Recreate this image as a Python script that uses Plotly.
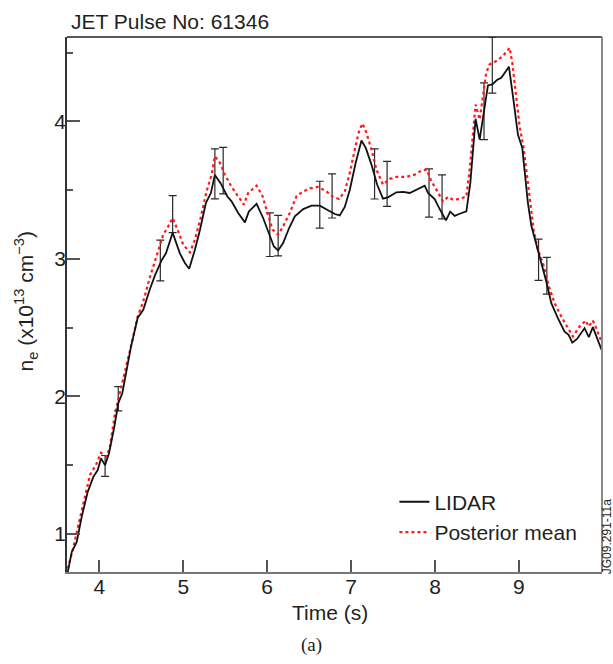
import plotly.graph_objects as go

# ---------------- data ----------------
lidar_t = [3.624, 3.672, 3.731, 3.790, 3.862, 3.929, 3.981, 4.020, 4.068, 4.115,
           4.179, 4.226, 4.274, 4.326, 4.377, 4.457, 4.524, 4.600, 4.663, 4.743,
           4.794, 4.874, 4.960, 5.020, 5.071, 5.139, 5.199, 5.270, 5.330, 5.377,
           5.445, 5.524, 5.576, 5.655, 5.735, 5.782, 5.874, 5.952, 6.032, 6.080,
           6.131, 6.190, 6.262, 6.330, 6.430, 6.529, 6.627, 6.726, 6.806, 6.865,
           6.925, 6.985, 7.056, 7.124, 7.175, 7.243, 7.310, 7.380, 7.440, 7.540,
           7.619, 7.699, 7.798, 7.877, 7.917, 7.996, 8.056, 8.131, 8.181, 8.235,
           8.294, 8.374, 8.421, 8.484, 8.532, 8.584, 8.631, 8.683, 8.738, 8.790,
           8.881, 8.937, 8.988, 9.040, 9.075, 9.107, 9.148, 9.207, 9.267, 9.326,
           9.386, 9.464, 9.544, 9.592, 9.636, 9.690, 9.782, 9.833, 9.881, 9.933,
           9.990]
lidar_ne = [0.723, 0.869, 0.942, 1.124, 1.306, 1.415, 1.464, 1.549, 1.500, 1.585,
            1.779, 1.950, 2.023, 2.190, 2.360, 2.570, 2.630, 2.775, 2.880, 2.990,
            3.040, 3.190, 3.040, 2.970, 2.928, 3.066, 3.210, 3.406, 3.480, 3.610,
            3.550, 3.455, 3.418, 3.333, 3.265, 3.345, 3.400, 3.297, 3.168, 3.090,
            3.061, 3.115, 3.224, 3.309, 3.362, 3.387, 3.387, 3.353, 3.326, 3.316,
            3.377, 3.503, 3.700, 3.860, 3.807, 3.685, 3.540, 3.438, 3.447, 3.484,
            3.487, 3.479, 3.508, 3.532, 3.479, 3.435, 3.362, 3.280, 3.343, 3.312,
            3.328, 3.345, 3.552, 4.018, 3.867, 4.062, 4.261, 4.268, 4.300, 4.317,
            4.397, 4.146, 3.904, 3.807, 3.576, 3.406, 3.240, 3.103, 2.980, 2.835,
            2.678, 2.569, 2.471, 2.447, 2.391, 2.416, 2.496, 2.430, 2.503, 2.423,
            2.330]

post_t = [3.624, 3.690, 3.750, 3.830, 3.889, 3.969, 4.020, 4.088, 4.127, 4.187,
          4.246, 4.306, 4.386, 4.457, 4.524, 4.600, 4.683, 4.762, 4.821, 4.874,
          4.940, 5.000, 5.080, 5.139, 5.207, 5.278, 5.338, 5.377, 5.437, 5.496,
          5.576, 5.655, 5.723, 5.774, 5.874, 5.945, 6.000, 6.064, 6.131, 6.190,
          6.270, 6.350, 6.429, 6.508, 6.607, 6.707, 6.786, 6.857, 6.925, 6.985,
          7.044, 7.095, 7.136, 7.183, 7.243, 7.302, 7.380, 7.460, 7.540, 7.660,
          7.758, 7.838, 7.898, 7.957, 8.017, 8.095, 8.155, 8.214, 8.294, 8.374,
          8.413, 8.452, 8.484, 8.532, 8.571, 8.611, 8.651, 8.730, 8.810, 8.889,
          8.921, 8.960, 9.008, 9.056, 9.095, 9.136, 9.175, 9.226, 9.286, 9.357,
          9.425, 9.505, 9.584, 9.643, 9.723, 9.795, 9.833, 9.881, 9.929, 9.990]
post_ne = [0.748, 0.900, 1.063, 1.270, 1.428, 1.513, 1.590, 1.561, 1.634, 1.877,
           2.023, 2.190, 2.387, 2.580, 2.690, 2.860, 3.017, 3.176, 3.236, 3.297,
           3.200, 3.103, 3.047, 3.139, 3.297, 3.490, 3.612, 3.746, 3.698, 3.612,
           3.523, 3.455, 3.394, 3.479, 3.532, 3.455, 3.334, 3.212, 3.176, 3.236,
           3.334, 3.455, 3.490, 3.512, 3.523, 3.490, 3.450, 3.435, 3.490, 3.625,
           3.795, 3.928, 3.984, 3.916, 3.795, 3.649, 3.540, 3.581, 3.596, 3.596,
           3.612, 3.642, 3.649, 3.564, 3.503, 3.418, 3.450, 3.430, 3.435, 3.454,
           3.649, 3.940, 4.122, 4.013, 4.183, 4.353, 4.414, 4.438, 4.474, 4.535,
           4.426, 4.232, 3.964, 3.807, 3.625, 3.406, 3.212, 3.066, 2.970, 2.800,
           2.678, 2.580, 2.496, 2.435, 2.508, 2.551, 2.508, 2.551, 2.484, 2.387]

err_t = [4.069, 4.226, 4.727, 4.874, 5.377, 5.476, 6.032, 6.131, 6.627,
         6.774, 7.280, 7.429, 7.929, 8.084, 8.584, 8.683, 9.234, 9.333]
err_low = [1.419, 1.894, 2.840, 3.190, 3.436, 3.472, 3.017, 3.022, 3.224,
           3.297, 3.435, 3.382, 3.304, 3.290, 3.867, 4.205, 2.843, 2.744]
err_high = [1.570, 2.071, 3.136, 3.460, 3.800, 3.810, 3.334, 3.316, 3.564,
            3.618, 3.800, 3.709, 3.654, 3.610, 4.280, 4.612, 3.144, 3.010]

x_ticks = [4, 5, 6, 7, 8, 9]
y_ticks = [1, 2, 3, 4]

err_mid = [(lo + hi) / 2 for lo, hi in zip(err_low, err_high)]
err_half = [(hi - lo) / 2 for lo, hi in zip(err_low, err_high)]

FONT = "Liberation Sans, Arial, sans-serif"
TXT = "#231f20"

fig = go.Figure()
fig.add_trace(go.Scatter(
    x=err_t, y=err_mid, mode="markers",
    marker=dict(size=1, color="rgba(0,0,0,0)"),
    error_y=dict(type="data", array=err_half, visible=True,
                 color="#2a2a2a", thickness=1.2, width=4),
    showlegend=False, hoverinfo="skip"))
fig.add_trace(go.Scatter(
    x=post_t, y=post_ne, mode="lines", name="Posterior mean",
    line=dict(color="#ff1a1a", width=2.2, dash="dot"), legendrank=2))
fig.add_trace(go.Scatter(
    x=lidar_t, y=lidar_ne, mode="lines", name="LIDAR",
    line=dict(color="#111111", width=1.8), legendrank=1))

fig.update_layout(
    width=613, height=664,
    margin=dict(l=67, r=11, t=37, b=92),
    paper_bgcolor="white", plot_bgcolor="white",
    font=dict(family=FONT, size=21, color=TXT),
    showlegend=True,
    legend=dict(x=0.612, xanchor="left", y=0.169, yanchor="top",
                bgcolor="rgba(0,0,0,0)", font=dict(size=21, color=TXT),
                tracegroupgap=0, itemwidth=30),
    xaxis=dict(range=[3.615, 9.99], tickvals=x_ticks, ticks="inside",
               ticklen=12, tickwidth=1.5, tickcolor="#555",
               ticklabelstandoff=-5,
               showline=True, linecolor="#777", linewidth=2,
               showgrid=False, zeroline=False,
               tickfont=dict(size=21, color=TXT)),
    yaxis=dict(range=[0.723, 4.613], tickvals=y_ticks, ticks="inside",
               ticklen=13, tickwidth=1.5, tickcolor="#555",
               ticklabelstandoff=-5,
               minor=dict(dtick=0.5, tick0=0, ticks="inside", ticklen=6,
                          tickwidth=1.5, tickcolor="#555"),
               showline=True, linecolor="#333", linewidth=1.5,
               showgrid=False, zeroline=False,
               tickfont=dict(size=21, color=TXT)),
    shapes=[
        dict(type="line", xref="paper", yref="paper", x0=0, x1=1, y0=1, y1=1,
             line=dict(color="#222", width=1.5)),
        dict(type="line", xref="paper", yref="paper", x0=1, x1=1, y0=0, y1=1,
             line=dict(color="#888", width=2)),
    ],
    annotations=[
        dict(text="JET Pulse No: 61346", xref="paper", yref="paper",
             x=0, xshift=2, y=1, yshift=16, xanchor="left", yanchor="middle",
             showarrow=False, font=dict(size=21, color=TXT)),
        dict(text="Time (s)", xref="paper", yref="paper",
             x=0.4925, y=0, yshift=-40, xanchor="center", yanchor="middle",
             showarrow=False, font=dict(size=21, color=TXT)),
        dict(text="n<sub>e</sub> (x10<sup>13</sup> cm<sup>\u22123</sup>)",
             xref="paper", yref="paper", x=0, xshift=-41, y=0.5056,
             xanchor="center", yanchor="middle", textangle=-90,
             showarrow=False, font=dict(size=21, color=TXT)),
        dict(text="(a)", xref="paper", yref="paper",
             x=0.457, y=0, yshift=-73, xanchor="center", yanchor="middle",
             showarrow=False,
             font=dict(family="Liberation Serif, Times New Roman, serif",
                       size=19, color=TXT)),
        dict(text="JG09.291-11a", xref="paper", yref="paper",
             x=1, xshift=5, y=0.065, xanchor="center", yanchor="middle",
             textangle=-90, showarrow=False,
             font=dict(size=12, color=TXT)),
    ],
)

fig.write_html("out.html")
